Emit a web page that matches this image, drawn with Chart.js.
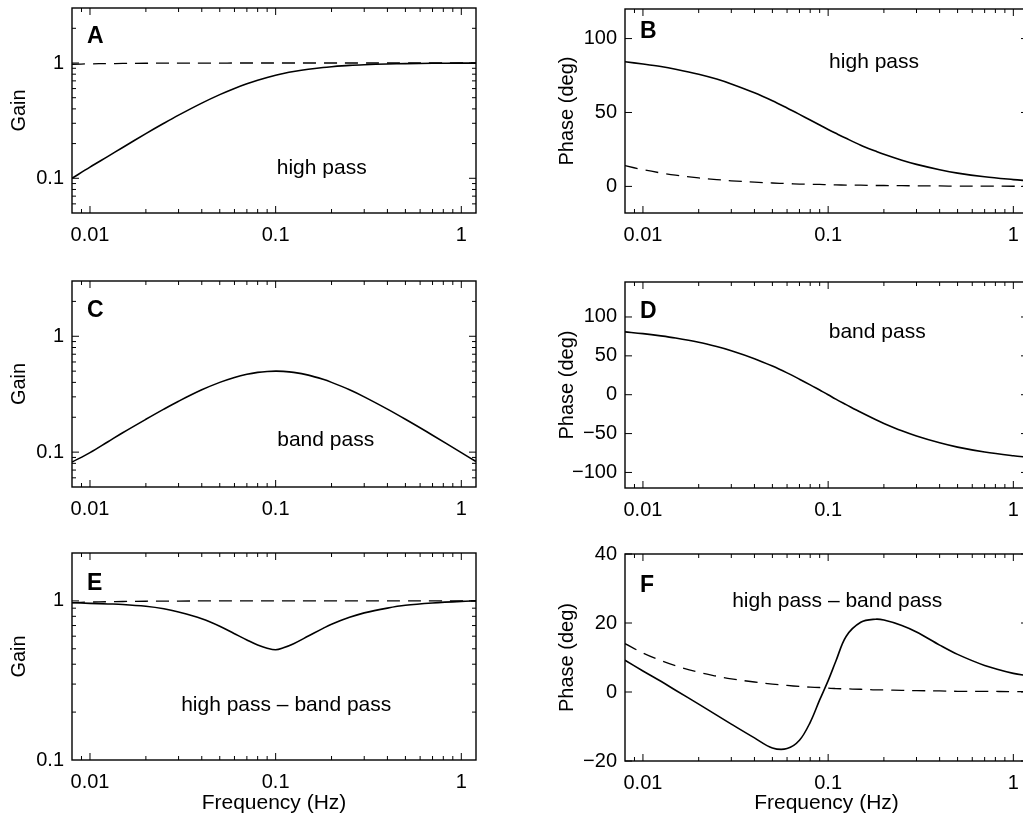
<!DOCTYPE html>
<html>
<head>
<meta charset="utf-8">
<script src="https://cdn.jsdelivr.net/npm/chart.js@4.4.0/dist/chart.umd.min.js"></script>
<style>
  html, body { margin: 0; padding: 0; background: #fff; overflow: hidden; }
  body { width: 1023px; height: 818px; position: relative; }
  canvas { position: absolute; }
</style>
</head>
<body>
<canvas id="pA" width="490" height="260" style="left:0px;top:0px"></canvas>
<canvas id="pB" width="520" height="260" style="left:520px;top:0px"></canvas>
<canvas id="pC" width="490" height="275" style="left:0px;top:260px"></canvas>
<canvas id="pD" width="520" height="275" style="left:520px;top:260px"></canvas>
<canvas id="pE" width="490" height="283" style="left:0px;top:535px"></canvas>
<canvas id="pF" width="520" height="283" style="left:520px;top:535px"></canvas>
<script>
// frequency grid (Hz) shared by all curves
var freq = [0.008, 0.01, 0.0125, 0.015, 0.02, 0.025, 0.03, 0.04, 0.05, 0.06, 0.07, 0.08, 0.09,
            0.1, 0.11, 0.125, 0.15, 0.18, 0.2, 0.25, 0.3, 0.4, 0.5, 0.7, 1, 1.2];
var freqTicks = [0.01, 0.1, 1];

// A: high pass gain (solid) and reference (dashed)
var hpGain = [0.100, 0.125, 0.155, 0.185, 0.244, 0.300, 0.353, 0.449, 0.532, 0.602, 0.660, 0.709, 0.749,
              0.782, 0.810, 0.843, 0.883, 0.915, 0.929, 0.953, 0.966, 0.981, 0.988, 0.994, 0.997, 0.998];
var refGain = [0.975, 0.983, 0.988, 0.991, 0.995, 0.997, 0.998, 0.999, 0.999, 1, 1, 1, 1,
               1, 1, 1, 1, 1, 1, 1, 1, 1, 1, 1, 1, 1];
// B: high pass phase (solid) and reference (dashed)
var hpPhase = [84.3, 82.8, 81.1, 79.3, 75.9, 72.6, 69.3, 63.3, 57.9, 53.0, 48.7, 44.9, 41.5,
               38.5, 35.9, 32.5, 27.9, 23.9, 21.7, 17.7, 14.9, 11.3, 9.0, 6.5, 4.6, 3.8];
var refPhase = [14.0, 11.3, 9.1, 7.6, 5.7, 4.6, 3.8, 2.9, 2.3, 1.9, 1.6, 1.4, 1.3,
                1.1, 1.0, 0.9, 0.8, 0.6, 0.6, 0.5, 0.4, 0.3, 0.2, 0.2, 0.1, 0.1];
// C, D: band pass
var bpGain = [0.082, 0.099, 0.123, 0.147, 0.192, 0.235, 0.275, 0.345, 0.400, 0.441, 0.470, 0.488, 0.497,
              0.500, 0.498, 0.488, 0.462, 0.425, 0.400, 0.345, 0.300, 0.235, 0.192, 0.140, 0.099, 0.083];
var bpPhase = [80.9, 78.6, 75.7, 72.9, 67.4, 61.9, 56.6, 46.4, 36.9, 28.1, 20.0, 12.7, 6.0,
               0, -5.7, -12.7, -22.6, -31.9, -36.9, -46.4, -53.1, -61.9, -67.4, -73.7, -78.6, -80.5];
// E, F: high pass - band pass
var diffGain = [0.974, 0.965, 0.957, 0.950, 0.925, 0.892, 0.851, 0.772, 0.693, 0.622, 0.568, 0.528, 0.504,
                0.493, 0.507, 0.538, 0.601, 0.672, 0.714, 0.789, 0.841, 0.901, 0.938, 0.970, 0.993, 1.0];
var diffPhase = [9.2, 6.1, 3.1, 0.5, -3.5, -6.7, -9.3, -13.3, -16.2, -16.4, -14.0, -8.8, -2.3,
                 3.3, 8.9, 16.1, 20.2, 21.1, 20.85, 19.3, 17.4, 13.6, 10.9, 7.7, 5.4, 4.7];

Chart.defaults.font.family = '"Liberation Sans", Arial, sans-serif';
Chart.defaults.color = '#000';

function pts(vals) {
  return freq.map(function (f, i) { return { x: f, y: vals[i] }; });
}

function solid(vals) {
  return { data: pts(vals), borderColor: '#000', borderWidth: 1.6, pointRadius: 0,
           tension: 0.35, fill: false };
}
function dashed(vals) {
  return { data: pts(vals), borderColor: '#000', borderWidth: 1.3, borderDash: [13, 8], pointRadius: 0,
           tension: 0.35, fill: false };
}

function logMarks(scale) {
  var out = [];
  for (var e = -3; e <= 1; e++) {
    for (var m = 1; m <= 9; m++) {
      var v = m * Math.pow(10, e);
      if (v > scale.min * 1.0001 && v < scale.max * 0.9999) out.push({ v: v, len: m === 1 ? 7 : 4 });
    }
  }
  return out;
}

// box, inward ticks, panel letter and note
var frame = {
  id: 'frame',
  afterDatasetsDraw: function (chart, args, opts) {
    var ctx = chart.ctx, a = chart.chartArea, xs = chart.scales.x, ys = chart.scales.y;
    ctx.save();
    ctx.strokeStyle = '#000';
    ctx.lineWidth = 1.4;
    ctx.strokeRect(a.left, a.top, a.right - a.left, a.bottom - a.top);
    ctx.lineWidth = 1;
    ctx.beginPath();
    logMarks(xs).forEach(function (m) {
      var p = xs.getPixelForValue(m.v);
      ctx.moveTo(p, a.bottom); ctx.lineTo(p, a.bottom - m.len);
      ctx.moveTo(p, a.top); ctx.lineTo(p, a.top + m.len);
    });
    var ym = ys.type === 'logarithmic' ? logMarks(ys)
      : ys.ticks.map(function (t) { return { v: t.value, len: 7 }; });
    ym.forEach(function (m) {
      var p = ys.getPixelForValue(m.v);
      ctx.moveTo(a.left, p); ctx.lineTo(a.left + m.len, p);
      ctx.moveTo(a.right, p); ctx.lineTo(a.right - m.len, p);
    });
    ctx.stroke();

    ctx.fillStyle = '#000';
    ctx.font = 'bold 23px "Liberation Sans", Arial, sans-serif';
    ctx.textAlign = 'left';
    ctx.textBaseline = 'alphabetic';
    ctx.fillText(opts.letter, a.left + 15, a.top + opts.letterDy);
    ctx.font = '21px "Liberation Sans", Arial, sans-serif';
    ctx.textAlign = 'center';
    ctx.textBaseline = 'middle';
    ctx.fillText(opts.note, xs.getPixelForValue(opts.at[0]), ys.getPixelForValue(opts.at[1]));
    ctx.restore();
  }
};

function minus(v) {
  return v < 0 ? '\u2212' + Math.abs(v) : String(v);
}

function makePanel(id, p) {
  var left = p.col === 0;
  new Chart(document.getElementById(id), {
    type: 'line',
    data: { datasets: p.datasets },
    plugins: [frame],
    options: {
      responsive: false,
      animation: false,
      layout: { padding: { top: p.padTop, right: left ? 14 : 12, left: 0, bottom: 0 } },
      plugins: {
        legend: { display: false },
        tooltip: { enabled: false },
        frame: { letter: p.letter, letterDy: p.letterDy, note: p.note, at: p.at }
      },
      scales: {
        x: {
          type: 'logarithmic',
          min: 0.008,
          max: 1.2,
          grid: { display: false, drawTicks: false },
          border: { display: false },
          ticks: { padding: 10, font: { size: 20 }, autoSkip: false, maxRotation: 0,
                   callback: function (v) { return String(v); } },
          afterBuildTicks: function (s) { s.ticks = freqTicks.map(function (v) { return { value: v }; }); },
          afterFit: function (s) { s.height = p.xH; s.paddingLeft = 0; s.paddingRight = 0; },
          title: { display: !!p.xTitle, text: p.xTitle || '', font: { size: 21 }, padding: { top: 0, bottom: 2 } }
        },
        y: {
          type: p.yType,
          min: p.yMin,
          max: p.yMax,
          grid: { display: false, drawTicks: false },
          border: { display: false },
          ticks: { padding: 8, font: { size: 20 }, autoSkip: false,
                   callback: function (v) { return minus(v); } },
          afterBuildTicks: function (s) { s.ticks = p.yTicks.map(function (v) { return { value: v }; }); },
          afterFit: function (s) { s.width = left ? 72 : 105; s.paddingTop = 0; s.paddingBottom = 0; },
          title: { display: true, text: p.yTitle, font: { size: 20 }, padding: { top: left ? 7 : 35, bottom: 0 } }
        }
      }
    }
  });
}

makePanel('pA', { col: 0, padTop: 8, xH: 47, yType: 'logarithmic', yMin: 0.05, yMax: 3, yTicks: [0.1, 1],
  yTitle: 'Gain', letter: 'A', letterDy: 35, note: 'high pass', at: [0.177, 0.122],
  datasets: [dashed(refGain), solid(hpGain)] });
makePanel('pB', { col: 1, padTop: 9, xH: 47, yType: 'linear', yMin: -18, yMax: 120, yTicks: [0, 50, 100],
  yTitle: 'Phase (deg)', letter: 'B', letterDy: 29, note: 'high pass', at: [0.177, 84],
  datasets: [dashed(refPhase), solid(hpPhase)] });
makePanel('pC', { col: 0, padTop: 21, xH: 48, yType: 'logarithmic', yMin: 0.05, yMax: 3, yTicks: [0.1, 1],
  yTitle: 'Gain', letter: 'C', letterDy: 36, note: 'band pass', at: [0.186, 0.127],
  datasets: [solid(bpGain)] });
makePanel('pD', { col: 1, padTop: 22, xH: 47, yType: 'linear', yMin: -120, yMax: 145, yTicks: [-100, -50, 0, 50, 100],
  yTitle: 'Phase (deg)', letter: 'D', letterDy: 36, note: 'band pass', at: [0.184, 81],
  datasets: [solid(bpPhase)] });
makePanel('pE', { col: 0, padTop: 18, xH: 58, yType: 'logarithmic', yMin: 0.1, yMax: 2, yTicks: [0.1, 1],
  yTitle: 'Gain', letter: 'E', letterDy: 37, note: 'high pass \u2013 band pass', at: [0.114, 0.22],
  xTitle: 'Frequency (Hz)', datasets: [dashed(refGain), solid(diffGain)] });
makePanel('pF', { col: 1, padTop: 19, xH: 57, yType: 'linear', yMin: -20, yMax: 40, yTicks: [-20, 0, 20, 40],
  yTitle: 'Phase (deg)', letter: 'F', letterDy: 38, note: 'high pass \u2013 band pass', at: [0.112, 26.4],
  xTitle: 'Frequency (Hz)', datasets: [dashed(refPhase), solid(diffPhase)] });
</script>
</body>
</html>
